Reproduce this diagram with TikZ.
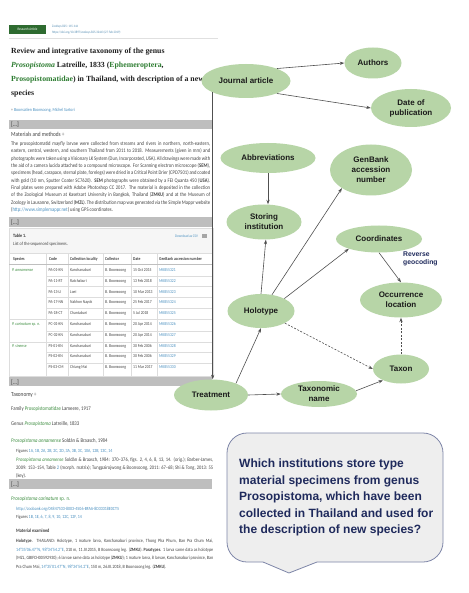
\documentclass[tikz,border=0pt]{standalone}
\usepackage{fontspec}
\setmainfont{Liberation Sans}
\newfontfamily\pf[FakeStretch=0.85]{Carlito}
\newfontfamily\tf{Liberation Serif}
\newfontfamily\gf{Liberation Sans}
\usetikzlibrary{shapes.geometric,arrows.meta}
\hyphenpenalty=10000
\exhyphenpenalty=10000
\newcommand\myfs[2]{\fontsize{#1}{#2}\selectfont}
\definecolor{nodefill}{HTML}{B7D5A7}
\definecolor{nodetext}{HTML}{1A1A1A}
\definecolor{edgecol}{HTML}{505050}
\definecolor{bubfill}{HTML}{EEEEEE}
\definecolor{bubline}{HTML}{7E86A8}
\definecolor{bubtext}{HTML}{1F2A5C}
\definecolor{badge}{HTML}{2E6B30}
\definecolor{linkblue}{HTML}{4A90C0}
\definecolor{spgreen}{HTML}{3E8E41}
\definecolor{titlegreen}{HTML}{2E7D32}
\definecolor{barcol}{HTML}{BEBEBE}
\definecolor{tline}{HTML}{DDDDDD}
\definecolor{bodytext}{HTML}{444444}
\definecolor{headfill}{HTML}{F6F6F6}
\tikzset{
  gnode/.style={ellipse, fill=nodefill, inner sep=0pt, align=center,
    font=\gf\bfseries\myfs{8}{10}, text=nodetext},
  garrow/.style={draw=edgecol, line width=0.6pt, -{Stealth[length=4.5pt,width=3.2pt]}},
  gdash/.style={garrow, dash pattern=on 2pt off 1.5pt},
  ptxt/.style={anchor=base west, inner sep=0pt, text=bodytext},
  para/.style={anchor=north west, inner sep=0pt, align=justify, text=bodytext},
  ttxt/.style={ptxt, font=\pf\myfs{4.4}{5}},
  thead/.style={ptxt, font=\pf\bfseries\myfs{4.4}{5}, text=black!75},
  titletxt/.style={ptxt, text=black!88, font=\tf\bfseries\myfs{7.8}{10}},
  bartxt/.style={ptxt, font=\pf\myfs{6.5}{7}, text=black!80},
}
\begin{document}
\begin{tikzpicture}[x=1pt,y=-1pt]
\useasboundingbox (0,0) rectangle (468,593);
\fill[white] (0,0) rectangle (468,593);

% ---------------- paper screenshot ----------------
\node[fill=badge, text=white, font=\pf\myfs{3.6}{4}, minimum width=37pt, minimum height=9pt, inner sep=0pt] (badge) at (27.5,29.5) {Research Article};
\node[ptxt, text=linkblue!80!gray, font=\pf\myfs{3.4}{4}] (cit1) at (52,28) {ZooKeys 825: 115-144};
\node[ptxt, text=linkblue!80!gray, font=\pf\myfs{3.4}{4}] (cit2) at (52,33.5) {https://doi.org/10.3897/zookeys.825.32443 (27 Feb 2019)};
\draw[black!12, line width=0.6pt] (9,38.5) -- (218,38.5);

\node[titletxt] (t1) at (11,54) {Review and integrative taxonomy of the genus};
\node[titletxt] (t2) at (11,68) {\textcolor{titlegreen}{\itshape Prosopistoma} Latreille, 1833 (\textcolor{titlegreen}{Ephemeroptera},};
\node[titletxt] (t3) at (11,82) {\textcolor{titlegreen}{Prosopistomatidae}) in Thailand, with description of a new};
\node[titletxt] (t4) at (11,96) {species};
\node[ptxt, text=linkblue, font=\pf\myfs{4.6}{5}] (auth) at (11,111.5) {\textcolor{gray}{+} Boonsatien Boonsoong, Michel Sartori};

\fill[barcol] (9,120) rectangle (212,129);
\node[bartxt] (b1) at (11,127) {[...]};
\node[ptxt, font=\pf\myfs{6.2}{7}] (mm) at (11,136.5) {Materials and methods \textcolor{gray}{+}};
\node[para, text width=199pt, font=\pf\myfs{5.45}{7.33}] (mmp) at (11,141.5) {The prosopistomatid mayfly larvae were collected from streams and rivers in northern, north-eastern, eastern, central, western, and southern Thailand from 2011 to 2018. Measurements (given in mm) and photographs were taken using a Visionary LK System (Dun, Incorporated, USA). All drawings were made with the aid of a camera lucida attached to a compound microscope. For Scanning electron microscope (\textbf{SEM}), specimens (head, carapace, sternal plate, forelegs) were dried in a Critical Point Drier (CPD7501) and coated with gold (10 nm, Sputter Coater SC7620). \textbf{SEM} photographs were obtained by a FEI Quanta 450 (\textbf{USA}). Final plates were prepared with Adobe Photoshop CC 2017. The material is deposited in the collection of the Zoological Museum at Kasetsart University in Bangkok, Thailand (\textbf{ZMKU}) and at the Museum of Zoology in Lausanne, Switzerland (\textbf{MZL}). The distribution map was generated via the Simple Mappr website (\textcolor{linkblue}{http://www.simplemappr.net}) using GPS coordinates.};

\fill[barcol] (9,217) rectangle (212,227);
\node[bartxt] (b2) at (11,224.5) {[...]};

% table
\fill[headfill] (9,228) rectangle (213,253);
\draw[tline, line width=0.5pt] (9,228) rectangle (213,376);
\node[ptxt, font=\pf\bfseries\myfs{4.8}{5}, text=black!80] (tab) at (13,237.5) {Table 1.};
\node[ptxt, font=\pf\myfs{4.8}{5}] (tabc) at (13,246) {List of the sequenced specimens.};
\node[ptxt, font=\pf\myfs{3.8}{4}, text=linkblue] (csv) at (175,237.5) {Download as CSV};
\fill[black!35] (201.5,234) rectangle (207,238.5);
\foreach \xx in {46,68,103,131,157} \draw[tline, line width=0.5pt] (\xx,253) -- (\xx,376);
\draw[tline, line width=0.5pt] (9,253) -- (213,253);
\draw[black!25, line width=0.5pt] (9,264.5) -- (213,264.5);
\node[thead] (h1) at (13,260.5) {Species};
\node[thead] (h2) at (49,260.5) {Code};
\node[thead] (h3) at (70,260.5) {Collection locality};
\node[thead] (h4) at (105,260.5) {Collector};
\node[thead] (h5) at (133,260.5) {Date};
\node[thead] (h6) at (159,260.5) {GenBank accession number};
\foreach \yy/\cd/\lc/\dt/\gbn in {
  271.5/PA-01-KN/Kanchanaburi/15 Oct 2015/MK855321,
  282.3/PA-11-RT/Ratchaburi/13 Feb 2018/MK855322,
  293.1/PA-13-LI/Loei/10 Mar 2013/MK855323,
  303.9/PA-17-NN/Nakhon Nayok/25 Feb 2017/MK855324,
  314.7/PA-18-CT/Chantaburi/5 Jul 2018/MK855325,
  325.5/PC-01-KN/Kanchanaburi/20 Apr 2014/MK855326,
  336.3/PC-02-KN/Kanchanaburi/20 Apr 2014/MK855327,
  347.1/PS-01-KN/Kanchanaburi/30 Feb 2006/MK855328,
  357.9/PS-02-KN/Kanchanaburi/30 Feb 2006/MK855329,
  368.7/PS-03-CM/Chiang Mai/11 Mar 2017/MK855330} {
  \node[ttxt] (cd\cd) at (48.5,\yy) {\cd};
  \node[ttxt] (lc\cd) at (70,\yy) {\lc};
  \node[ttxt] (co\cd) at (105,\yy) {B. Boonsoong};
  \node[ttxt] (dt\cd) at (133,\yy) {\dt};
  \node[ttxt, text=linkblue] (gb\cd) at (159,\yy) {\gbn};
}
\foreach \yy in {275.8,286.6,297.4,308.2,330.8,352.4,363.2} \draw[tline, line width=0.4pt] (46,\yy) -- (213,\yy);
\foreach \yy in {319.2,341.8} \draw[tline, line width=0.4pt] (9,\yy) -- (213,\yy);
\node[ttxt, text=spgreen] (sp1) at (12,271.5) {\itshape P. annamense};
\node[ttxt, text=spgreen] (sp2) at (12,325.5) {\itshape P. carinatum \upshape sp. n.};
\node[ttxt, text=spgreen] (sp3) at (12,347.1) {\itshape P. sinense};

\fill[barcol] (9,377) rectangle (212,386);
\node[bartxt] (b3) at (11,384) {[...]};
\node[ptxt, font=\pf\myfs{6.2}{7}] (tx) at (11,396.5) {Taxonomy \textcolor{gray}{+}};
\node[ptxt, font=\pf\myfs{5.6}{6}] (fam) at (11,410.5) {Family \textcolor{spgreen}{Prosopistomatidae} Lameere, 1917};
\node[ptxt, font=\pf\myfs{5.6}{6}] (gen) at (11,425.5) {Genus \textcolor{spgreen}{\itshape Prosopistoma} Latreille, 1833};
\node[ptxt, font=\pf\myfs{5.6}{6}] (ann) at (11,442) {\textcolor{spgreen}{\itshape Prosopistoma annamense} Soldán \& Braasch, 1984};
\node[ptxt, font=\pf\myfs{4.7}{5}] (fig1) at (16,452) {Figures \textcolor{linkblue}{1A, 1B, 2A, 2B, 2C, 2D, 3A, 3B, 3C, 10A, 12B, 13C, 14}};
\node[para, text width=197pt, font=\pf\myfs{5.3}{8}] (annp) at (16,457.5) {\textcolor{spgreen}{\itshape Prosopistoma annamense} Soldán \& Braasch, 1984: 370–376, figs. 2, 4, 6, 8, 13, 14. (orig.); Barber-James, 2009: 153–154, Table \textcolor{linkblue}{2} (morph. matrix); Tungpairojwong \& Boonsoong, 2011: 67–68; Shi \& Tong, 2013: 55 (key).};

\fill[barcol] (9,479) rectangle (212,489);
\node[bartxt] (b4) at (11,486.5) {[...]};
\node[ptxt, font=\pf\myfs{5.6}{6}, text=spgreen] (car) at (11,500) {\itshape Prosopistoma carinatum \upshape sp. n.};
\node[ptxt, font=\pf\myfs{4.7}{5}, text=linkblue] (zb) at (16,510) {http://zoobank.org/04847533-8003-4506-BFAA-8D33318E0CT5};
\node[ptxt, font=\pf\myfs{4.7}{5}] (fig2) at (16,518) {Figures \textcolor{linkblue}{1B, 1E, 6, 7, 8, 9, 10, 12C, 12F, 14}};
\node[ptxt, font=\pf\bfseries\myfs{5}{5}, text=black!75] (me) at (16,532) {Material examined};
\node[para, text width=197pt, font=\pf\myfs{4.8}{8.5}] (mep) at (16,539) {\textbf{Holotype}. THAILAND: Holotype, 1 mature larva, Kanchanaburi province, Thong Pha Phum, Ban Pra Chum Mai, \textcolor{linkblue}{14°35'06.47"N, 98°34'54.2"E}, 310 m, 11.IV.2015, B Boonsoong leg. (\textbf{ZMKU}). \textbf{Paratypes}. 1 larva same data as holotype (MZL, GBIFCH00592930); 6 larvae same data as holotype (\textbf{ZMKU}); 1 mature larva, 8 larvae, Kanchanaburi province, Ban Pra Chum Mai, \textcolor{linkblue}{14°35'01.47"N, 98°34'54.2"E}, 150 m, 26.III.2018, B Boonsoong leg. (\textbf{ZMKU}).};

% ---------------- graph ----------------
\node[gnode, minimum width=89pt, minimum height=34pt] (ja) at (246,81) {Journal article};
\node[gnode, minimum width=57pt, minimum height=31pt] (au) at (373,63) {Authors};
\node[gnode, minimum width=80pt, minimum height=38pt] (dp) at (411,108) {Date of\\publication};
\node[gnode, minimum width=95pt, minimum height=30pt] (ab) at (268,158) {Abbreviations};
\node[gnode, minimum width=82pt, minimum height=51pt] (gb) at (371,170) {GenBank\\accession\\number};
\node[gnode, minimum width=75pt, minimum height=35pt] (st) at (264,222) {Storing\\institution};
\node[gnode, minimum width=86pt, minimum height=27pt] (co) at (379,239) {Coordinates};
\node[gnode, minimum width=82pt, minimum height=35pt] (oc) at (401,300) {Occurrence\\location};
\node[gnode, minimum width=67pt, minimum height=34pt] (ho) at (261,311) {Holotype};
\node[gnode, minimum width=56pt, minimum height=29pt] (ta) at (401,369) {Taxon};
\node[gnode, minimum width=76pt, minimum height=26pt] (tn) at (319,394) {Taxonomic\\name};
\node[gnode, minimum width=74pt, minimum height=31pt] (tr) at (211,395) {Treatment};
\node[anchor=north west, inner sep=0pt, align=left, font=\gf\bfseries\myfs{6.8}{8.5}, text=bubtext] (rg) at (403,251.5) {Reverse\\geocoding};

\draw[garrow] (ja.22) -- (au.west);
\draw[garrow] (ja.-22) -- (dp.west);
\draw[garrow] (ja.-161) -- (ja.-161 |- tr.north);
\draw[garrow] (ab.south) -- (ab.south |- st.north);
\draw[garrow] (ho.north) -- (st.-84);
\draw[garrow] (ho.56) -- (gb.-148);
\draw[garrow] (ho.28) -- (co.-162);
\draw[garrow] (co.south) -- (oc.north);
\draw[gdash] (ho.-27) -- (ta.west);
\draw[gdash] (ta.north) -- (oc.south);
\draw[garrow] (tr.25) -- (ho.south);
\draw[garrow] (tr.east) -- (tn.west);
\draw[garrow] (tn.5) -- (ta.-148);

% ---------------- speech bubble ----------------
\draw[fill=bubfill, draw=bubline, line width=0.8pt, rounded corners=20pt] (227,433) rectangle (443,562);
\fill[bubfill] (263,559.5) rectangle (317,562.6);
\fill[bubfill] (263,562) -- (289,573) -- (317,562) -- cycle;
\draw[bubline, line width=0.8pt, line join=round] (263,562) -- (289,573) -- (317,562);
\node[anchor=north west, inner sep=0pt, align=left, font=\gf\bfseries\myfs{12}{16.5}, text=bubtext] (q) at (239,459) {Which institutions store type\\material specimens from genus\\Prosopistoma, which have been\\collected in Thailand and used for\\the description of new species?};
\end{tikzpicture}
\end{document}
